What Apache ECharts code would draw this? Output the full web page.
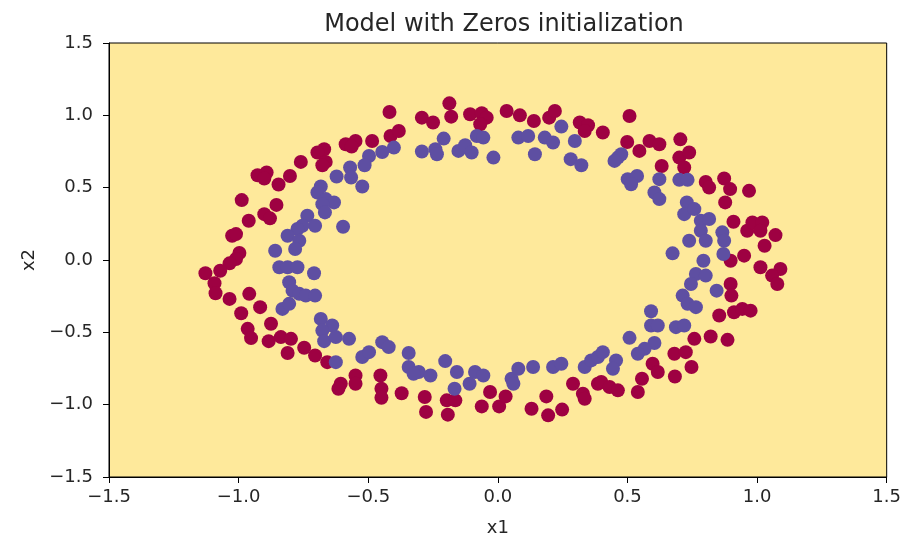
<!DOCTYPE html>
<html>
<head>
<meta charset="utf-8">
<script src="https://cdn.jsdelivr.net/npm/echarts@6/dist/echarts.min.js"></script>
<style>
  html, body { margin: 0; padding: 0; background: #fff; }
  #chart { width: 904px; height: 542px; }
</style>
</head>
<body>
<div id="chart"></div>
<script>
// axis ticks
var tickMin = -1.5;
var tickMax = 1.5;
var tickStep = 0.5;

// class 0 (outer ring, red) [x1, x2]
var redPoints = [
    [-0.418, 1.023], [-0.414, 0.857], [-0.485, 0.823], [-0.587, 0.800], [-0.549, 0.823], [-0.564, 0.784],
    [-0.670, 0.766], [-0.696, 0.743], [-0.664, 0.678], [-0.677, 0.655], [-0.760, 0.678], [-0.927, 0.586],
    [-0.892, 0.605], [-0.901, 0.563], [-0.802, 0.581], [-0.846, 0.522], [-0.988, 0.414], [-0.854, 0.381],
    [-0.901, 0.317], [-0.879, 0.288], [-0.961, 0.271], [-1.025, 0.168], [-1.010, 0.179], [-0.997, 0.048],
    [-0.382, 0.892], [-0.293, 0.984], [-0.250, 0.950], [-0.187, 1.083], [-0.180, 0.991], [-0.107, 1.007],
    [-0.062, 1.014], [-0.043, 0.984], [-0.068, 0.938], [0.034, 1.030], [0.085, 1.000], [0.139, 0.961],
    [0.198, 0.984], [0.220, 1.030], [0.316, 0.950], [0.348, 0.931], [0.335, 0.892],
    [0.405, 0.881], [0.508, 0.995], [0.499, 0.816], [0.546, 0.754], [0.585, 0.823], [0.623, 0.800],
    [0.704, 0.834], [0.700, 0.708], [0.738, 0.743], [0.719, 0.639], [0.632, 0.650], [0.802, 0.540],
    [0.815, 0.501], [0.873, 0.563], [0.896, 0.490], [0.969, 0.478], [0.877, 0.398], [0.909, 0.264],
    [0.962, 0.202], [0.982, 0.260], [1.020, 0.260], [1.013, 0.202], [1.071, 0.172], [1.029, 0.099],
    [0.950, 0.030], [0.898, -0.005],
    [-1.010, 0.007], [-1.035, -0.023], [-1.128, -0.092], [-1.071, -0.074], [-1.093, -0.161], [-1.089, -0.230],
    [-1.035, -0.269], [-0.959, -0.234], [-0.917, -0.326], [-0.990, -0.368], [-0.875, -0.441], [-0.965, -0.476],
    [-0.952, -0.540], [-0.884, -0.561], [-0.837, -0.533], [-0.798, -0.545], [-0.811, -0.643], [-0.747, -0.607],
    [-0.705, -0.660], [-0.658, -0.706], [-0.606, -0.855], [-0.615, -0.890], [-0.549, -0.798], [-0.549, -0.855],
    [-0.453, -0.798], [-0.449, -0.890], [-0.449, -0.952], [-0.371, -0.921],
    [-0.282, -0.947], [-0.277, -1.050], [-0.197, -0.970], [-0.164, -0.970], [-0.193, -1.069], [-0.062, -1.012],
    [-0.030, -0.912], [0.005, -1.012], [0.030, -0.943], [0.130, -1.028], [0.187, -0.943], [0.194, -1.074],
    [0.248, -1.034], [0.290, -0.855], [0.328, -0.924], [0.335, -0.959], [0.386, -0.855],
    [1.013, -0.050], [1.090, -0.062], [1.058, -0.108], [1.078, -0.166], [0.898, -0.166], [0.901, -0.246],
    [0.854, -0.384], [0.911, -0.361], [0.943, -0.338], [0.975, -0.350], [0.758, -0.545], [0.821, -0.529],
    [0.886, -0.552], [0.681, -0.648], [0.725, -0.637], [0.747, -0.740], [0.597, -0.717], [0.617, -0.774],
    [0.683, -0.805], [0.556, -0.821], [0.399, -0.843], [0.431, -0.878], [0.463, -0.901], [0.540, -0.912]
];

// class 1 (inner ring, blue) [x1, x2]
var bluePoints = [
    [-0.401, 0.777], [-0.446, 0.747], [-0.497, 0.719], [-0.514, 0.655], [-0.570, 0.639], [-0.566, 0.570],
    [-0.622, 0.577], [-0.523, 0.508], [-0.683, 0.508], [-0.696, 0.467], [-0.664, 0.421], [-0.632, 0.398],
    [-0.677, 0.386], [-0.667, 0.329], [-0.735, 0.306], [-0.705, 0.237], [-0.754, 0.237], [-0.773, 0.214],
    [-0.597, 0.230], [-0.811, 0.168], [-0.766, 0.133], [-0.782, 0.076], [-0.859, 0.064],
    [-0.293, 0.750], [-0.241, 0.766], [-0.235, 0.731], [-0.209, 0.839], [-0.152, 0.754], [-0.126, 0.793],
    [-0.101, 0.743], [-0.081, 0.857], [-0.056, 0.846], [-0.017, 0.708], [0.079, 0.846], [0.117, 0.857],
    [0.181, 0.846], [0.213, 0.812], [0.143, 0.731], [0.245, 0.922], [0.297, 0.823], [0.281, 0.697],
    [0.322, 0.655],
    [0.463, 0.708], [0.476, 0.731], [0.450, 0.685], [0.501, 0.559], [0.537, 0.581], [0.514, 0.524],
    [0.623, 0.559], [0.700, 0.554], [0.732, 0.554], [0.604, 0.467], [0.623, 0.421], [0.729, 0.398],
    [0.719, 0.317], [0.758, 0.352], [0.783, 0.271], [0.815, 0.283], [0.783, 0.202], [0.802, 0.133],
    [0.738, 0.133], [0.866, 0.191], [0.873, 0.133], [0.674, 0.046], [0.793, -0.005], [0.870, 0.041],
    [-0.843, -0.050], [-0.811, -0.050], [-0.773, -0.050], [-0.709, -0.092], [-0.805, -0.154], [-0.792, -0.212],
    [-0.766, -0.234], [-0.741, -0.246], [-0.705, -0.246], [-0.831, -0.338], [-0.805, -0.303], [-0.683, -0.407],
    [-0.639, -0.453], [-0.677, -0.488], [-0.670, -0.561], [-0.625, -0.533], [-0.574, -0.545], [-0.625, -0.706],
    [-0.523, -0.671], [-0.497, -0.637], [-0.446, -0.568], [-0.421, -0.602],
    [-0.344, -0.643], [-0.344, -0.740], [-0.305, -0.774], [-0.260, -0.798], [-0.325, -0.786], [-0.203, -0.699],
    [-0.158, -0.774], [-0.167, -0.890], [-0.109, -0.855], [-0.088, -0.774], [-0.056, -0.798], [0.053, -0.821],
    [0.060, -0.855], [0.079, -0.752], [0.136, -0.740], [0.213, -0.740], [0.245, -0.717], [0.335, -0.740],
    [0.360, -0.694], [0.386, -0.671],
    [0.764, -0.097], [0.802, -0.108], [0.745, -0.166], [0.713, -0.246], [0.732, -0.303], [0.764, -0.326],
    [0.844, -0.212], [0.591, -0.354], [0.591, -0.453], [0.617, -0.453], [0.687, -0.464], [0.719, -0.453],
    [0.508, -0.538], [0.604, -0.574], [0.566, -0.614], [0.540, -0.648], [0.405, -0.637], [0.456, -0.694],
    [0.444, -0.752]
];

var font = 'DejaVu Sans';
var textColor = '#262626';

function tickLabel(v) {
    // matplotlib style unicode minus
    return (v < 0 ? '\u2212' : '') + Math.abs(v).toFixed(1);
}

function makeAxis(name, gap, labelMargin) {
    return {
        type: 'value',
        min: tickMin,
        max: tickMax,
        interval: tickStep,
        name: name,
        nameLocation: 'middle',
        nameGap: gap,
        nameTextStyle: { fontFamily: font, fontSize: 18, color: textColor },
        axisLine: { show: true, onZero: false, lineStyle: { color: '#000', width: 1 } },
        axisTick: { show: true, inside: false, length: 6, lineStyle: { color: '#000', width: 1 } },
        axisLabel: { fontFamily: font, fontSize: 18, color: textColor, margin: labelMargin, formatter: tickLabel },
        splitLine: { show: false }
    };
}

var chart = echarts.init(document.getElementById('chart'));

var option = {
    animation: false,
    backgroundColor: '#fff',
    title: {
        text: 'Model with Zeros initialization',
        left: 499,
        top: 8,
        textAlign: 'center',
        textStyle: { fontFamily: font, fontSize: 24, fontWeight: 'normal', color: textColor }
    },
    grid: {
        left: 109,
        right: 15,
        top: 43,
        bottom: 64,
        show: true,
        backgroundColor: '#fee99b',
        borderColor: '#000',
        borderWidth: 1
    },
    xAxis: makeAxis('x1', 42, 11),
    yAxis: makeAxis('x2', 68, 16),
    series: [
        {
            name: 'y=0',
            type: 'scatter',
            symbolSize: 14,
            itemStyle: { color: '#9e0142', opacity: 1 },
            data: redPoints
        },
        {
            name: 'y=1',
            type: 'scatter',
            symbolSize: 14,
            itemStyle: { color: '#5e4fa2', opacity: 1 },
            data: bluePoints
        }
    ]
};

chart.setOption(option);
</script>
</body>
</html>
